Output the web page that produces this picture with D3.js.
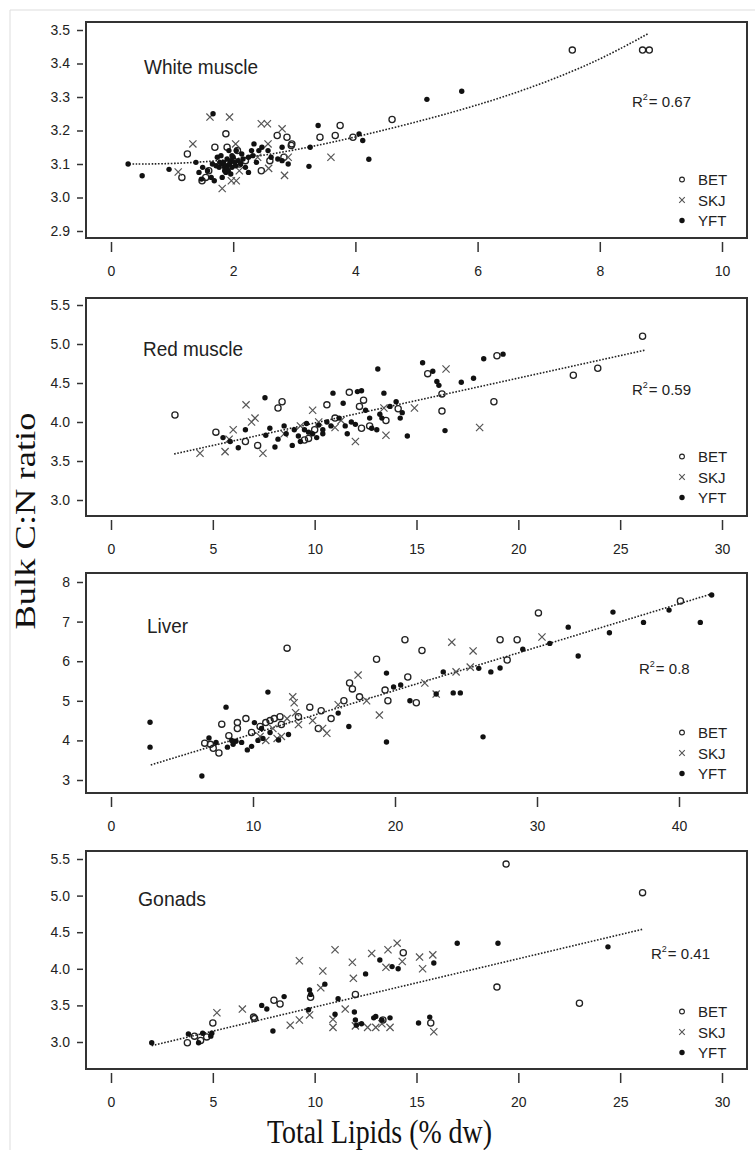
<!DOCTYPE html>
<html><head><meta charset="utf-8">
<script src="https://cdn.jsdelivr.net/npm/d3@7"></script>
<style>body{margin:0;background:#fff}svg{display:block}</style>
</head><body>
<svg id="c" width="755" height="1150"></svg>
<script>
// ---------- DATA ----------
// White muscle
const wmBET=[[1.25,3.13],[1.16,3.06],[1.70,3.15],[1.88,3.19],[1.9,3.15],[2.46,3.08],[2.72,3.185],[2.88,3.18],[2.96,3.16],[3.42,3.18],[3.67,3.185],[3.75,3.215],[1.49,3.05],[1.6,3.08],[1.9,3.10],[2.1,3.10],[2.6,3.11],[2.83,3.12],[3.96,3.18],[4.6,3.233],[7.55,3.44],[8.7,3.44],[8.81,3.44],[1.55,3.06],[2.07,3.14],[2.2,3.11],[2.95,3.155]];
const wmSKJ=[[1.34,3.16],[1.62,3.24],[1.94,3.24],[2.46,3.22],[2.56,3.22],[2.8,3.205],[2.84,3.066],[3.6,3.12],[1.82,3.027],[1.97,3.05],[2.04,3.16],[1.1,3.076],[2.58,3.087],[2.1,3.08],[2.9,3.12],[2.4,3.12],[2.57,3.16],[2.05,3.05]];
const wmYFT=[[0.28,3.10],[0.51,3.065],[0.95,3.084],[1.67,3.25],[3.39,3.215],[3.24,3.093],[3.26,3.15],[4.06,3.19],[4.12,3.17],[4.22,3.114],[2.9,3.10],[2.8,3.15],[2.34,3.16],[5.17,3.293],[5.74,3.317],
 [1.39,3.105],[1.44,3.075],[1.5,3.09],[1.64,3.06],[1.69,3.05],[1.74,3.12],[1.77,3.09],[1.82,3.10],[1.88,3.075],[1.9,3.115],[1.93,3.14],[1.98,3.09],[2.0,3.12],[2.08,3.11],[2.14,3.13],[2.2,3.09],[2.25,3.075],[2.3,3.14],[2.42,3.14],[2.47,3.15],[2.57,3.14],[2.62,3.12],[2.73,3.115],[2.8,3.11],[1.82,3.06],[1.58,3.08],[1.72,3.095],[1.96,3.07],[2.04,3.095],[1.8,3.125],[2.05,3.14],[2.25,3.12],[2.38,3.105],[1.48,3.055],[1.86,3.09],[1.92,3.08],[2.12,3.1],
 [1.84,3.105],[1.88,3.095],[1.94,3.1],[1.96,3.11],[1.86,3.08],[1.9,3.085],[2.02,3.105],[1.78,3.105],[2.16,3.115],[2.32,3.125],[1.66,3.1],[1.98,3.125]];
const wmTrend=[[0.3,3.10],[1,3.10],[2,3.112],[3,3.14],[4,3.18],[5,3.225],[6,3.275],[7,3.335],[8,3.41],[8.8,3.49]];
// Red muscle
const rmBET=[[3.14,4.09],[5.15,3.87],[8.2,4.18],[8.4,4.26],[10.6,4.22],[11.7,4.38],[12.4,4.28],[12.2,4.2],[15.55,4.62],[16.25,4.36],[16.25,4.14],[18.8,4.26],[18.95,4.85],[12.3,3.92],[12.7,3.95],[7.2,3.7],[6.6,3.75],[9.5,3.77],[9.7,3.79],[14.1,4.17],[22.7,4.6],[23.9,4.69],[26.1,5.10],[10.0,3.9],[11.0,4.05],[13.5,4.02]];
const rmSKJ=[[4.37,3.60],[5.6,3.62],[6.0,3.90],[6.63,4.22],[7.07,4.05],[6.9,4.0],[7.46,3.60],[12.0,3.75],[13.5,3.83],[13.4,4.18],[14.9,4.18],[16.45,4.68],[18.1,3.93],[9.9,4.15],[10.2,4.0],[11.3,4.02],[11.0,3.93],[8.5,3.85],[9.3,3.95],[5.8,3.78]];
const rmYFT=[[7.56,4.31],[5.5,3.8],[5.85,3.75],[6.25,3.67],[6.6,3.90],[7.6,3.83],[8.05,3.68],[8.6,3.85],[8.9,3.7],[9.2,3.82],[9.5,3.9],[9.7,3.87],[10.2,3.96],[10.4,3.9],[10.4,3.85],[10.9,4.37],[11.4,4.24],[11.5,3.95],[11.8,4.0],[12.1,4.39],[12.3,4.4],[12.7,4.05],[13.05,3.9],[13.1,4.68],[13.3,4.05],[13.4,4.37],[14.0,4.26],[14.3,4.12],[14.55,3.82],[15.3,4.76],[15.8,4.65],[16.0,4.52],[16.1,4.47],[16.4,3.89],[17.2,4.51],[17.8,4.56],[18.3,4.81],[19.25,4.87],[7.8,3.92],[8.2,3.78],[8.5,3.95],[9.0,3.9],[9.3,3.75],[9.6,3.98],[9.9,3.85],[10.1,3.8],[10.6,4.0],[10.8,3.95],[11.2,4.05],[11.6,3.85],[12.0,3.97],[12.5,4.15],[13.2,4.1],[12.8,3.92],[13.7,4.2],[14.2,4.05]];
const rmTrend=[[3.1,3.59],[26.2,4.92]];
// Liver
const lvBET=[[12.4,6.33],[7.8,4.41],[8.9,4.45],[9.5,4.55],[8.9,4.3],[6.6,3.93],[7.2,3.8],[7.6,3.68],[8.3,4.12],[9.9,4.2],[10.9,4.45],[11.2,4.5],[11.5,4.55],[11.9,4.6],[12.0,4.4],[14.0,4.84],[14.8,4.75],[14.6,4.3],[16.8,5.45],[17.0,5.3],[16.4,5.0],[17.5,5.1],[18.7,6.05],[19.3,5.27],[19.5,5.0],[20.7,6.54],[20.9,5.6],[21.5,4.95],[21.9,6.27],[27.4,6.54],[28.6,6.54],[27.9,6.03],[30.1,7.22],[40.1,7.52],[7.0,3.9],[10.5,4.35],[13.2,4.6],[15.5,4.55]];
const lvSKJ=[[12.8,5.1],[12.9,4.95],[10.5,4.1],[10.9,4.0],[11.7,4.05],[12.0,4.1],[12.4,4.55],[13.0,4.7],[13.2,4.4],[15.2,4.18],[14.9,4.3],[16.0,4.9],[17.4,5.65],[18.0,5.0],[18.9,4.64],[22.1,5.45],[24.0,6.48],[24.3,5.73],[25.3,5.85],[25.5,6.26],[22.9,5.17],[30.35,6.61],[11.4,4.3],[14.2,4.5]];
const lvYFT=[[2.75,4.46],[2.75,3.83],[6.4,3.1],[6.9,4.06],[8.1,4.84],[11.05,5.22],[8.5,4.0],[8.8,3.98],[9.6,3.76],[8.2,3.83],[8.6,3.9],[10.35,4.0],[10.6,4.3],[10.7,4.05],[11.2,4.2],[11.8,4.01],[12.5,4.15],[16.0,4.69],[16.75,4.35],[19.4,5.7],[19.4,3.96],[19.9,5.35],[20.4,5.4],[21.05,5.0],[22.9,5.17],[23.4,5.73],[24.1,5.2],[24.6,5.2],[25.9,5.82],[26.2,4.09],[26.75,5.73],[27.4,5.83],[29.0,6.3],[30.9,6.45],[32.2,6.86],[32.9,6.13],[35.1,6.72],[35.35,7.24],[37.5,6.98],[39.3,7.29],[41.5,6.98],[42.3,7.67],[9.2,3.95],[9.9,3.85],[10.1,4.45],[7.4,3.95]];
const lvTrend=[[2.8,3.38],[42.3,7.70]];
// Gonads
const gnBET=[[3.75,2.99],[4.1,3.08],[4.7,3.07],[5.0,3.26],[7.0,3.34],[7.05,3.32],[8.0,3.57],[8.3,3.52],[9.8,3.61],[12.0,3.65],[13.35,3.3],[14.35,4.22],[15.7,3.26],[18.95,3.75],[19.4,5.43],[26.1,5.04],[23.0,3.53],[4.4,3.02]];
const gnSKJ=[[5.2,3.4],[6.45,3.45],[9.25,4.11],[8.8,3.23],[9.25,3.3],[9.75,3.37],[10.4,3.97],[10.3,3.74],[11.0,4.26],[10.9,3.31],[10.9,3.2],[11.5,3.45],[11.85,4.09],[11.9,3.87],[12.0,3.22],[12.8,4.21],[12.6,3.2],[13.0,3.2],[13.6,4.26],[14.05,4.35],[13.5,4.02],[13.7,3.2],[14.3,4.1],[15.15,4.16],[15.3,4.0],[15.8,4.19],[15.85,3.14],[13.3,3.25]];
const gnYFT=[[2.0,2.99],[3.8,3.11],[4.3,2.99],[4.5,3.12],[4.95,3.12],[4.9,3.08],[7.4,3.5],[7.65,3.45],[7.95,3.15],[8.5,3.62],[9.75,3.71],[9.8,3.65],[10.5,3.79],[9.7,3.44],[11.15,3.59],[11.0,3.38],[11.95,3.41],[12.05,3.23],[12.5,3.93],[13.2,4.12],[13.8,4.03],[14.1,4.0],[12.9,3.33],[13.0,3.35],[13.3,3.3],[13.7,3.33],[15.1,3.26],[15.65,3.34],[15.85,4.08],[17.0,4.35],[19.0,4.35],[24.4,4.3],[12.0,3.3],[12.3,3.25]];
const gnTrend=[[2.0,2.95],[26.1,4.54]];

const panelTitles=["White muscle","Red muscle","Liver","Gonads"];
const r2Values=["0.67","0.59","0.8","0.41"];
const xTickSets=[[0,2,4,6,8,10],[0,5,10,15,20,25,30],[0,10,20,30,40],[0,5,10,15,20,25,30]];
const yTickSets=[[2.9,3.0,3.1,3.2,3.3,3.4,3.5],[3.0,3.5,4.0,4.5,5.0,5.5],[3,4,5,6,7,8],[3.0,3.5,4.0,4.5,5.0,5.5]];
const yTickFormats=[".1f",".1f","d",".1f"];
const legendLabels=["BET","SKJ","YFT"];
const xTitle="Total Lipids (% dw)";
const yTitle="Bulk C:N ratio";

// ---------- LAYOUT ----------
const layout=[
 {top:22,bottom:238,xMax:10,xPx:722,yLo:2.9,yLoPx:231,yHi:3.5,yHiPx:30,tx:144,ty:74,tw:114,rx:632,ry:107,leg:185},
 {top:298,bottom:516,xMax:30,xPx:722,yLo:3.0,yLoPx:500,yHi:5.5,yHiPx:305,tx:143,ty:356,tw:100,rx:632,ry:395,leg:462},
 {top:573,bottom:793,xMax:40,xPx:679,yLo:3,yLoPx:780,yHi:8,yHiPx:582,tx:147,ty:633,tw:41,rx:639,ry:674,leg:738},
 {top:851,bottom:1069,xMax:30,xPx:722,yLo:3.0,yLoPx:1042,yHi:5.5,yHiPx:859,tx:138,ty:906,tw:68,rx:651,ry:959,leg:1017}
];
const series=[[wmBET,wmSKJ,wmYFT,wmTrend],[rmBET,rmSKJ,rmYFT,rmTrend],[lvBET,lvSKJ,lvYFT,lvTrend],[gnBET,gnSKJ,gnYFT,gnTrend]];

const svg=d3.select("#c");
const SANS="'Liberation Sans', Arial, sans-serif";
const SERIF="'Liberation Serif','Times New Roman', serif";
const INK="#222";

// faint outer frame
svg.append("line").attr("x1",10).attr("y1",10).attr("x2",755).attr("y2",10).attr("stroke","#ddd");
svg.append("line").attr("x1",10).attr("y1",10).attr("x2",10).attr("y2",1150).attr("stroke","#ddd");

const xPath="M-3.6,-3.6L3.6,3.6M-3.6,3.6L3.6,-3.6";
const xPathSmall="M-2.8,-2.8L2.8,2.8M-2.8,2.8L2.8,-2.8";

layout.forEach((L,i)=>{
  const [bet,skj,yft,trend]=series[i];
  const x=d3.scaleLinear().domain([0,L.xMax]).range([111,L.xPx]);
  const y=d3.scaleLinear().domain([L.yLo,L.yHi]).range([L.yLoPx,L.yHiPx]);
  const g=svg.append("g");

  const ya=g.append("g").attr("transform","translate(83,0)")
    .call(d3.axisLeft(y).tickValues(yTickSets[i]).tickFormat(d3.format(yTickFormats[i])).tickSize(6).tickPadding(7));
  ya.select(".domain").remove();
  ya.selectAll("line").attr("stroke","#333").attr("stroke-width",1.5);
  ya.selectAll("text").attr("font-family",SANS).attr("font-size",14).attr("fill",INK);

  const xa=g.append("g").attr("transform",`translate(0,${L.bottom+4})`)
    .call(d3.axisBottom(x).tickValues(xTickSets[i]).tickFormat(d3.format("d")).tickSize(10).tickPadding(14));
  xa.select(".domain").remove();
  xa.selectAll("line").attr("stroke","#333").attr("stroke-width",1.5);
  xa.selectAll("text").attr("font-family",SANS).attr("font-size",14).attr("fill",INK);

  g.append("rect").attr("x",86).attr("y",L.top).attr("width",661).attr("height",L.bottom-L.top)
    .attr("fill","none").attr("stroke","#333").attr("stroke-width",2);

  g.append("text").attr("x",L.tx).attr("y",L.ty).text(panelTitles[i])
    .attr("font-family",SANS).attr("font-size",20).attr("fill",INK)
    .attr("textLength",L.tw).attr("lengthAdjust","spacingAndGlyphs");

  g.append("path").datum(trend)
    .attr("d",d3.line().x(d=>x(d[0])).y(d=>y(d[1])).curve(d3.curveBasis))
    .attr("fill","none").attr("stroke","#222").attr("stroke-width",1.6).attr("stroke-dasharray","1.6,1.6");

  g.append("g").selectAll("circle").data(bet).join("circle")
    .attr("cx",d=>x(d[0])).attr("cy",d=>y(d[1])).attr("r",3.1)
    .attr("fill","none").attr("stroke","#222").attr("stroke-width",1.3);
  g.append("g").selectAll("path").data(skj).join("path")
    .attr("d",xPath).attr("transform",d=>`translate(${x(d[0])},${y(d[1])})`)
    .attr("fill","none").attr("stroke","#555").attr("stroke-width",1.2);
  g.append("g").selectAll("circle").data(yft).join("circle")
    .attr("cx",d=>x(d[0])).attr("cy",d=>y(d[1])).attr("r",2.7).attr("fill","#111");

  const rt=g.append("text").attr("x",L.rx).attr("y",L.ry).attr("font-family",SANS).attr("font-size",15).attr("fill",INK);
  rt.append("tspan").text("R");
  rt.append("tspan").text("2").attr("font-size",9).attr("dy",-7);
  rt.append("tspan").text("= "+r2Values[i]).attr("dy",7).attr("dx",1);

  legendLabels.forEach((lab,k)=>{
    const by=L.leg+k*20.5;
    const cy=by-5.5;
    if(k===0) g.append("circle").attr("cx",682).attr("cy",cy).attr("r",2.4).attr("fill","none").attr("stroke","#222").attr("stroke-width",1.1);
    if(k===1) g.append("path").attr("d",xPathSmall).attr("transform",`translate(682,${cy})`).attr("fill","none").attr("stroke","#555").attr("stroke-width",1.1);
    if(k===2) g.append("circle").attr("cx",682).attr("cy",cy).attr("r",2.7).attr("fill","#111");
    g.append("text").attr("x",698).attr("y",by).text(lab).attr("font-family",SANS).attr("font-size",15).attr("fill",INK);
  });
});

svg.append("text").attr("x",379.5).attr("y",1143).attr("text-anchor","middle").text(xTitle)
  .attr("font-family",SERIF).attr("font-size",33).attr("fill","#111")
  .attr("textLength",225).attr("lengthAdjust","spacingAndGlyphs");
svg.append("text").attr("transform","translate(35,521) rotate(-90)").attr("text-anchor","middle").text(yTitle)
  .attr("font-family",SERIF).attr("font-size",29).attr("fill","#111")
  .attr("textLength",217).attr("lengthAdjust","spacingAndGlyphs");
</script>
</body></html>
